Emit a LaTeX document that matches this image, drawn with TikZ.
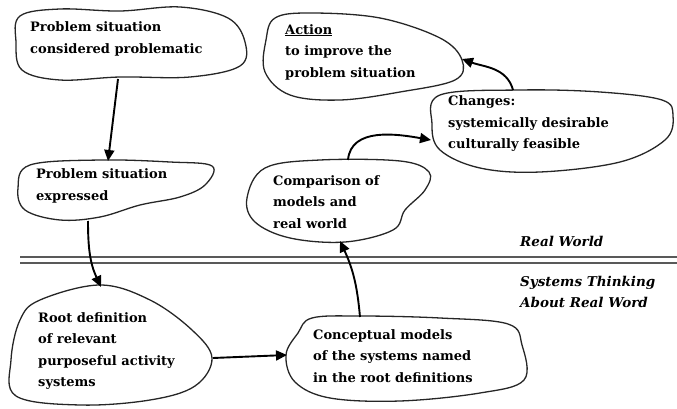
\documentclass[tikz,border=0pt]{standalone}
\usepackage{fontspec}
\setmainfont{DejaVu Serif}
\usetikzlibrary{arrows.meta}
\begin{document}
\begin{tikzpicture}[x=1pt,y=-1pt,
  blob/.style={draw=black!85,line width=1.3pt,smooth cycle,tension=0.6},
  txt/.style={anchor=west,align=left,inner sep=0pt,font=\fontsize{13}{21.5}\selectfont\bfseries},
  lbl/.style={anchor=west,align=left,inner sep=0pt,font=\fontsize{13.5}{21.5}\selectfont\bfseries\itshape},
  conn/.style={line width=1.9pt,-{Triangle[length=11pt,width=10pt]}}]
\useasboundingbox (0,0) rectangle (677,409);
% blobs
\draw[blob] plot coordinates {(20,16) (60,9) (120,11) (180,7) (228,18) (245,42) (240,66) (190,77) (120,77) (60,80) (22,70) (16,42)};
\draw[blob] plot coordinates {(30,165) (100,160) (170,162) (212,166) (205,185) (180,197) (140,205) (100,217) (60,220) (25,210) (18,188)};
\draw[blob] plot coordinates {(40,300) (100,285) (150,300) (192,330) (212,358) (195,386) (150,400) (80,405) (16,396) (11,360) (20,320)};
\draw[blob] plot coordinates {(312,318) (360,316) (440,318) (508,324) (522,345) (524,380) (480,393) (400,401) (330,398) (295,382) (286,355) (298,333)};
\draw[blob] plot coordinates {(265,168) (320,160) (400,161) (429,172) (425,190) (405,210) (393,230) (345,242) (290,238) (255,222) (247,198)};
\draw[blob] plot coordinates {(440,95) (520,90) (600,92) (662,100) (673,116) (665,140) (620,162) (540,172) (480,168) (440,150) (432,124)};
\draw[blob] plot coordinates {(275,18) (310,13) (380,18) (440,38) (462,60) (455,80) (400,92) (340,100) (290,95) (265,72) (266,40)};
% texts
\node[txt] (t1) at (30,39) {Problem situation\\considered problematic};
\node[txt] (t2) at (36,186) {Problem situation\\expressed};
\node[txt] (t3) at (38,351) {Root definition\\of relevant\\purposeful activity\\systems};
\node[txt] (t4) at (313,356) {Conceptual models\\of the systems named\\in the root definitions};
\node[txt] (t5) at (273,202) {Comparison of\\models and\\real world};
\node[txt] (t6) at (448,124) {Changes:\\systemically desirable\\culturally feasible};
\node[txt] (t7) at (285,52) {\underline{Action}\\to improve the\\problem situation};
\node[lbl] (rw) at (520,241) {Real World};
\node[lbl] (st) at (520,292) {Systems Thinking\\About Real Word};
% double line
\coordinate (dl1) at (20,257); \coordinate (dr1) at (677,257);
\coordinate (dl2) at (20,263); \coordinate (dr2) at (677,263);
\draw[black!65,line width=1.8pt] (dl1) -- (dr1);
\draw[black!65,line width=1.8pt] (dl2) -- (dr2);
% connector endpoints
\coordinate (a1s) at (118,79); \coordinate (a1e) at (108,161);
\coordinate (a2s) at (88,221); \coordinate (a2e) at (101,287);
\coordinate (a3s) at (213,358); \coordinate (a3e) at (287,355);
\coordinate (a4s) at (360,317); \coordinate (a4e) at (340,241);
\coordinate (a5s) at (348,160); \coordinate (a5e) at (431,140);
\coordinate (a6s) at (513,90); \coordinate (a6e) at (462,59);
\draw[conn] (a1s) -- (a1e);
\draw[conn] (a2s) to[out=-90,in=115] (a2e);
\draw[conn] (a3s) -- (a3e);
\draw[conn] (a4s) to[out=95,in=-65] (a4e);
\draw[conn] (a5s) to[out=85,in=170] (a5e);
\draw[conn] (a6s) to[out=105,in=-20] (a6e);
\end{tikzpicture}
\end{document}
